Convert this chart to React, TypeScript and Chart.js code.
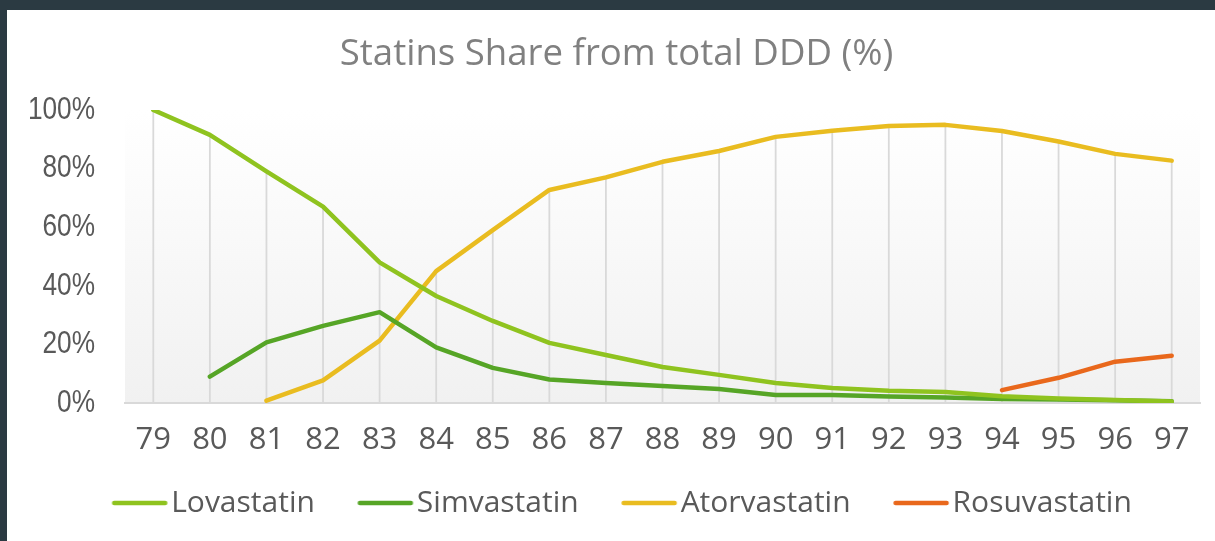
import React, { useEffect, useRef } from 'react';
import { Chart, registerables } from 'chart.js';

Chart.register(...registerables);

const years = ['79', '80', '81', '82', '83', '84', '85', '86', '87', '88', '89', '90', '91', '92', '93', '94', '95', '96', '97'];
const lovastatin = [100, 91.5, 79, 67, 48, 36.5, 28, 20.5, 16.4, 12.3, 9.6, 6.8, 5.1, 4.2, 3.75, 2.3, 1.5, 1.0, 0.5];
const simvastatin = [null, 9, 20.7, 26.3, 31, 19, 12, 8, 6.8, 5.8, 4.8, 2.7, 2.7, 2.2, 1.9, 1.4, 1.2, 0.9, 0.6];
const atorvastatin = [null, null, 0.8, 7.7, 21.3, 45, 59, 72.7, 77, 82.3, 86, 90.8, 92.9, 94.5, 94.9, 92.8, 89.2, 85, 82.7];
const rosuvastatin = [null, null, null, null, null, null, null, null, null, null, null, null, null, null, null, 4.4, 8.6, 14.1, 16.1];
const seriesNames = ['Lovastatin', 'Simvastatin', 'Atorvastatin', 'Rosuvastatin'];
const seriesColors = ['#8fc31f', '#56a526', '#e9bc20', '#e9681c'];
const titleText = 'Statins Share from total DDD (%)';
const yMin = 0;
const yMax = 100;
const yStep = 20;

function makeLegendLine(color: string) {
  const c = document.createElement('canvas');
  c.width = 100;
  c.height = 8;
  const ctx = c.getContext('2d')!;
  ctx.strokeStyle = color;
  ctx.lineWidth = 4.5;
  ctx.lineCap = 'round';
  ctx.beginPath();
  ctx.moveTo(35.5, 4);
  ctx.lineTo(86.5, 4);
  ctx.stroke();
  return c;
}

const plotBg = {
  id: 'plotBg',
  beforeDraw(chart: any) {
    const { ctx, chartArea } = chart;
    if (!chartArea) return;
    const g = ctx.createLinearGradient(0, chartArea.top, 0, chartArea.bottom);
    g.addColorStop(0, '#ffffff');
    g.addColorStop(1, '#f1f1f1');
    ctx.save();
    ctx.fillStyle = g;
    ctx.fillRect(chartArea.left, chartArea.top, chartArea.right - chartArea.left, chartArea.bottom - chartArea.top);
    ctx.restore();
  },
};

const dropLines = {
  id: 'dropLines',
  beforeDatasetsDraw(chart: any) {
    const { ctx, chartArea } = chart;
    const xScale = chart.scales.x;
    const yScale = chart.scales.y;
    ctx.save();
    ctx.strokeStyle = '#d9d9d9';
    ctx.lineWidth = 1.8;
    chart.data.labels.forEach((_: any, i: number) => {
      let maxV: number | null = null;
      chart.data.datasets.forEach((ds: any) => {
        const v = ds.data[i];
        if (v !== null && v !== undefined && (maxV === null || v > maxV)) maxV = v;
      });
      if (maxV === null) return;
      const x = xScale.getPixelForValue(i);
      ctx.beginPath();
      ctx.moveTo(x, yScale.getPixelForValue(maxV));
      ctx.lineTo(x, chartArea.bottom);
      ctx.stroke();
    });
    ctx.restore();
  },
};

// Narrow (condensed) rendering of the value-axis labels, anchored at their right edge.
const narrowYLabels = {
  id: 'narrowYLabels',
  afterLayout(chart: any) {
    const y = chart.scales.y;
    y.left = 0;
    if (!y._narrowWrapped) {
      const orig = y.drawLabels.bind(y);
      y.drawLabels = (area: any) => {
        const ctx = chart.ctx;
        const ax = y.right - y.options.ticks.padding;
        ctx.save();
        ctx.translate(ax, 0);
        ctx.scale(0.82, 1);
        ctx.translate(-ax, 0);
        orig(area);
        ctx.restore();
      };
      y._narrowWrapped = true;
    }
  },
};

export default function App() {
  const ref = useRef<HTMLCanvasElement>(null);

  useEffect(() => {
    if (!ref.current) return;
    const legendImgs = seriesColors.map(makeLegendLine);
    const seriesData = [lovastatin, simvastatin, atorvastatin, rosuvastatin];
    const chart = new Chart(ref.current, {
      type: 'line',
      data: {
        labels: years,
        datasets: seriesNames.map((name, i) => ({
          label: name,
          data: seriesData[i],
          borderColor: seriesColors[i],
          backgroundColor: seriesColors[i],
          borderWidth: 4.5,
          borderCapStyle: 'round',
          borderJoinStyle: 'round',
          pointRadius: 0,
          pointHoverRadius: 0,
          tension: 0,
          spanGaps: false,
          fill: false,
        })),
      },
      options: {
        responsive: false,
        animation: false,
        devicePixelRatio: 1,
        layout: { padding: { left: 26, right: 15, top: 0, bottom: 13 } },
        plugins: {
          tooltip: { enabled: false },
          title: {
            display: true,
            text: titleText,
            color: '#808080',
            font: { family: "'Open Sans', sans-serif", size: 36.6, weight: 'normal' },
            padding: { top: 23, bottom: 33 },
          },
          legend: {
            position: 'bottom',
            labels: {
              usePointStyle: true,
              pointStyleWidth: 55,
              padding: 32,
              color: '#595959',
              font: { family: "'Open Sans', sans-serif", size: 30 },
              generateLabels: (ch: any) =>
                ch.data.datasets.map((ds: any, i: number) => ({
                  text: ds.label,
                  fillStyle: ds.borderColor,
                  strokeStyle: ds.borderColor,
                  lineWidth: 0,
                  pointStyle: legendImgs[i],
                  hidden: false,
                  datasetIndex: i,
                  fontColor: '#595959',
                })),
            },
          },
        },
        scales: {
          x: {
            type: 'category',
            offset: true,
            grid: { display: false, drawTicks: false },
            border: { display: true, color: '#d9d9d9', width: 2 },
            ticks: {
              color: '#595959',
              padding: 19,
              maxRotation: 0,
              autoSkip: false,
              font: { family: "'Open Sans', sans-serif", size: 31 },
            },
            afterFit: (s: any) => {
              s.height = 53;
            },
          },
          y: {
            min: yMin,
            max: yMax,
            grid: { display: false, drawTicks: false },
            border: { display: false },
            ticks: {
              stepSize: yStep,
              padding: 30,
              color: '#595959',
              font: { family: "'Liberation Sans', Arial, sans-serif", size: 32 },
              callback: (v: any) => v + '%',
            },
            afterFit: (s: any) => {
              s.width = 92;
            },
          },
        },
      },
      plugins: [plotBg, dropLines, narrowYLabels],
    } as any);
    return () => chart.destroy();
  }, []);

  return (
    <div style={{ position: 'fixed', left: 0, top: 0, width: 1215, height: 541, background: '#2b3a42', overflow: 'hidden' }}>
      <div style={{ position: 'absolute', left: 7, top: 10, width: 1208, height: 531, background: '#ffffff' }}>
        <canvas ref={ref} width={1208} height={531} style={{ display: 'block', width: 1208, height: 531 }} />
      </div>
    </div>
  );
}
